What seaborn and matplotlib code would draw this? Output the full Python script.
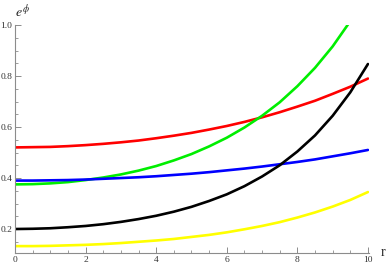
import numpy as np
import pandas as pd
import matplotlib
matplotlib.use("Agg")
import matplotlib.pyplot as plt
from matplotlib.ticker import MultipleLocator
import seaborn as sns

# r grid and values
r = [0.0, 0.5, 1.0, 1.5, 2.0, 2.5, 3.0, 3.5, 4.0, 4.5, 5.0,
     5.5, 6.0, 6.5, 7.0, 7.5, 8.0, 8.5, 9.0, 9.5, 10.0]

red = [0.520, 0.521, 0.522, 0.525, 0.529, 0.534, 0.540, 0.547, 0.556, 0.566, 0.577,
       0.590, 0.604, 0.620, 0.638, 0.658, 0.680, 0.703, 0.730, 0.758, 0.790]
green = [0.375, 0.376, 0.379, 0.384, 0.392, 0.402, 0.414, 0.429, 0.447, 0.469, 0.494,
         0.524, 0.558, 0.598, 0.644, 0.697, 0.760, 0.832, 0.916, 1.015]
blue = [0.390, 0.390, 0.391, 0.392, 0.394, 0.397, 0.400, 0.403, 0.407, 0.412, 0.417,
        0.423, 0.430, 0.437, 0.445, 0.454, 0.463, 0.473, 0.485, 0.497, 0.510]
black = [0.200, 0.201, 0.203, 0.207, 0.212, 0.219, 0.228, 0.239, 0.252, 0.268, 0.287,
         0.310, 0.336, 0.368, 0.406, 0.450, 0.504, 0.567, 0.644, 0.736, 0.847]
yellow = [0.133, 0.133, 0.134, 0.136, 0.138, 0.141, 0.145, 0.150, 0.155, 0.161, 0.169,
          0.177, 0.187, 0.199, 0.212, 0.227, 0.245, 0.265, 0.288, 0.314, 0.345]

series = [("red", red, "#ff0000"), ("green", green, "#00ee00"),
          ("blue", blue, "#0000ff"), ("black", black, "#000000"),
          ("yellow", yellow, "#ffff00")]

sns.set_style("white")
plt.rcParams['font.family'] = ['Liberation Serif', 'DejaVu Serif']
plt.rcParams['mathtext.fontset'] = 'stix'

fig = plt.figure(figsize=(3.9, 2.67), dpi=100)
ax = fig.add_axes([15 / 390, 14 / 267, 354 / 390, 228 / 267])

for name, vals, col in series:
    sns.lineplot(x=r[:len(vals)], y=vals, color=col, linewidth=1.9, ax=ax)

ax.set_xlim(0, 10.03)
ax.set_ylim(0.106, 1.0)

axis_gray = "#8c8c8c"
for side in ["top", "right"]:
    ax.spines[side].set_visible(False)
for side in ["left", "bottom"]:
    ax.spines[side].set_color(axis_gray)
    ax.spines[side].set_linewidth(0.8)

ax.xaxis.set_minor_locator(MultipleLocator(0.5))
ax.yaxis.set_minor_locator(MultipleLocator(0.05))
ax.set_yticks([0.2, 0.4, 0.6, 0.8, 1.0])
ax.set_yticklabels(["0.2", "0.4", "0.6", "0.8", "1.0"])
ax.set_xticks([0, 2, 4, 6, 8, 10])
ax.set_xticklabels(["0", "2", "4", "6", "8", "10"])

ax.tick_params(which="major", direction="in", length=4, width=0.7,
               color=axis_gray, labelsize=6.8, labelcolor="#333333", pad=2)
ax.tick_params(which="minor", direction="in", length=2, width=0.6,
               color=axis_gray)
ax.tick_params(axis="y", which="both", left=True)
ax.tick_params(axis="x", which="both", bottom=True)

ax.set_xlabel("")
ax.set_ylabel("")
fig.text(383 / 390, 1 - 253 / 267, "r", fontsize=10, ha="center", va="center",
         color="#222222")
fig.text(22 / 390, 1 - 12 / 267, r"$e^{\phi}$", fontsize=10, ha="center",
         va="center", color="#222222")

fig.savefig("out.png", dpi=100)
